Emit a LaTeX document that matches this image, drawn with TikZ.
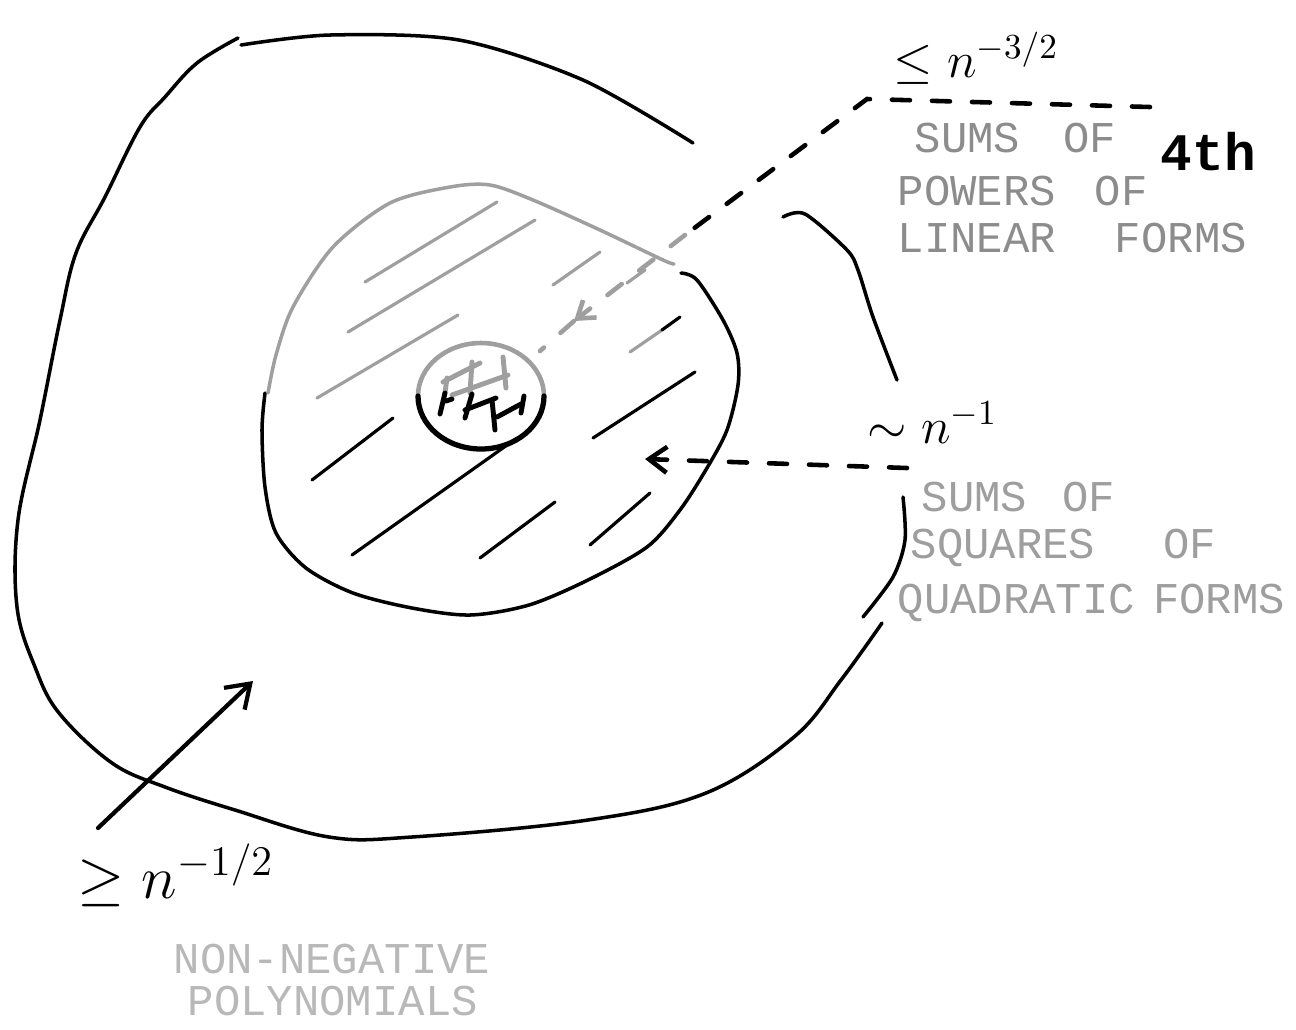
\documentclass[tikz,border=0pt]{standalone}
\usepackage{fontspec}
\newfontfamily\scrawl{Liberation Mono}
\usetikzlibrary{arrows.meta}
\definecolor{pencil}{gray}{0.55}
\definecolor{softpencil}{gray}{0.62}
\definecolor{faintpencil}{gray}{0.72}

\begin{document}
\begin{tikzpicture}[x=0.01cm, y=-0.01cm,
    outline/.style={line width=1pt, line cap=round, line join=round},
    pale/.style={outline, draw=gray!75},
    hatchline/.style={line width=0.9pt, line cap=round},
    scribble/.style={line width=1.4pt, line cap=round},
    leader/.style={line width=1.3pt, line cap=round, dash pattern=on 1.8mm off 2.2mm},
    caption/.style={font=\scrawl\fontsize{12.5}{13}\selectfont, anchor=base west, inner sep=0pt, text=pencil},
    bound/.style={font=\Large, anchor=base west, inner sep=0pt},
]
\useasboundingbox (0,0) rectangle (1296,1029);

% outer region: non-negative polynomials
\draw[outline] plot[smooth, tension=0.6] coordinates {(238,38) (197,63) (165,97) (140,127) (105,197) (76,253) (60,320) (40,420) (18,520) (17,607) (35,667) (59,713) (112,763) (165,787) (235,810) (329,837) (412,837) (588,820) (706,793) (794,737) (841,680) (882,623)};
\draw[outline] plot[smooth] coordinates {(241,45) (330,35) (459,40) (583,80) (693,143)};
\draw[outline] plot[smooth] coordinates {(783,217) (805,214) (847,250) (858,270) (873,317) (897,380)};
\draw[outline] plot[smooth] coordinates {(903,497) (905,540) (893,577) (863,617)};

% middle region: sums of squares
\draw[pale] plot[smooth] coordinates {(268,393) (276,355) (293,307) (333,247) (390,203) (450,187) (490,185) (533,200) (600,230) (663,260) (674,264)};
\draw[outline] plot[smooth] coordinates {(681,273) (697,280) (723,320) (737,353) (738,385) (727,430) (707,468) (680,510) (647,547) (588,580) (529,605) (470,615) (412,608) (353,593) (306,568) (276,533) (265,487) (262,430) (265,393)};

% hatching of the middle region
\foreach \xa/\ya/\xb/\yb in {365/282/497/202, 348/332/535/220, 317/398/458/315, 553/285/600/252, 627/283/645/270, 630/352/662/330}
  \draw[hatchline, gray!75] (\xa,\ya) -- (\xb,\yb);
\foreach \xa/\ya/\xb/\yb in {662/330/680/317, 593/438/695/372, 312/480/393/418, 352/555/517/438, 480/558/555/502, 590/545/650/493}
  \draw[hatchline] (\xa,\ya) -- (\xb,\yb);

% inner region: sums of 4th powers
\draw[pale, line width=1.3pt] (544,396) arc[start angle=0, end angle=-180, x radius=63, y radius=53];
\draw[outline, line width=1.5pt] (544,396) arc[start angle=0, end angle=180, x radius=63, y radius=53];
\foreach \xa/\ya/\xb/\yb in {443/382/480/363, 452/395/508/375, 447/378/445/393, 472/362/470/393, 503/357/506/388}
  \draw[scribble, gray!75] (\xa,\ya) -- (\xb,\yb);
\foreach \xa/\ya/\xb/\yb in {445/393/440/414, 446/401/452/399, 472/394/465/418, 465/410/496/398, 492/400/495/430, 497/417/521/404, 524/396/521/413}
  \draw[scribble] (\xa,\ya) -- (\xb,\yb);

% bounds and leaders
\node[bound] (upper) at (893,77) {$\le n^{-3/2}$};
\node[bound] (middle) at (867,443) {$\sim n^{-1}$};
\node[bound, font=\LARGE] (lower) at (77,898) {$\ge n^{-1/2}$};

\coordinate (q3) at (1150,107);
\coordinate (q3bend) at (867,99);
\coordinate (q3turn) at (685,235);
\coordinate (q3tip) at (574,321);
\coordinate (q3end) at (540,351);
\draw[leader] (q3) -- (q3bend) -- (q3turn);
\draw[leader, gray!75, -{Straight Barb[length=1.6mm, width=2.2mm]}] (q3turn) -- (q3tip);
\draw[leader, gray!75] (q3tip) -- (q3end);

\coordinate (q2) at (907,468);
\coordinate (q2tip) at (645,459);
\draw[leader, -{Straight Barb[length=1.8mm, width=2.6mm]}] (q2) -- (q2tip);

\coordinate (q1) at (98,828);
\coordinate (q1tip) at (253,681);
\draw[outline, line width=1.2pt, -{Straight Barb[length=2.2mm, width=3mm]}] (q1) -- (q1tip);

% labels
\node[caption] (pw1) at (914,152) {SUMS\hspace{4.3mm}OF};
\node[caption, text=black, font=\scrawl\bfseries\fontsize{15}{15}\selectfont] (pw4) at (1160,170) {4th};
\node[caption] (pw2) at (897,205) {POWERS\hspace{3.9mm}OF};
\node[caption] (pw3) at (897,252) {LINEAR\hspace{5.9mm}FORMS};

\node[caption, text=softpencil] (sq1) at (921,511) {SUMS\hspace{3.5mm}OF};
\node[caption, text=softpencil] (sq2) at (910,558) {SQUARES\hspace{6.8mm}OF};
\node[caption, text=softpencil] (sq3) at (897,613) {QUADRATIC\hspace{1.8mm}FORMS};

\node[caption, text=faintpencil] (np1) at (173,973) {NON-NEGATIVE};
\node[caption, text=faintpencil] (np2) at (187,1015) {POLYNOMIALS};
\end{tikzpicture}
\end{document}
